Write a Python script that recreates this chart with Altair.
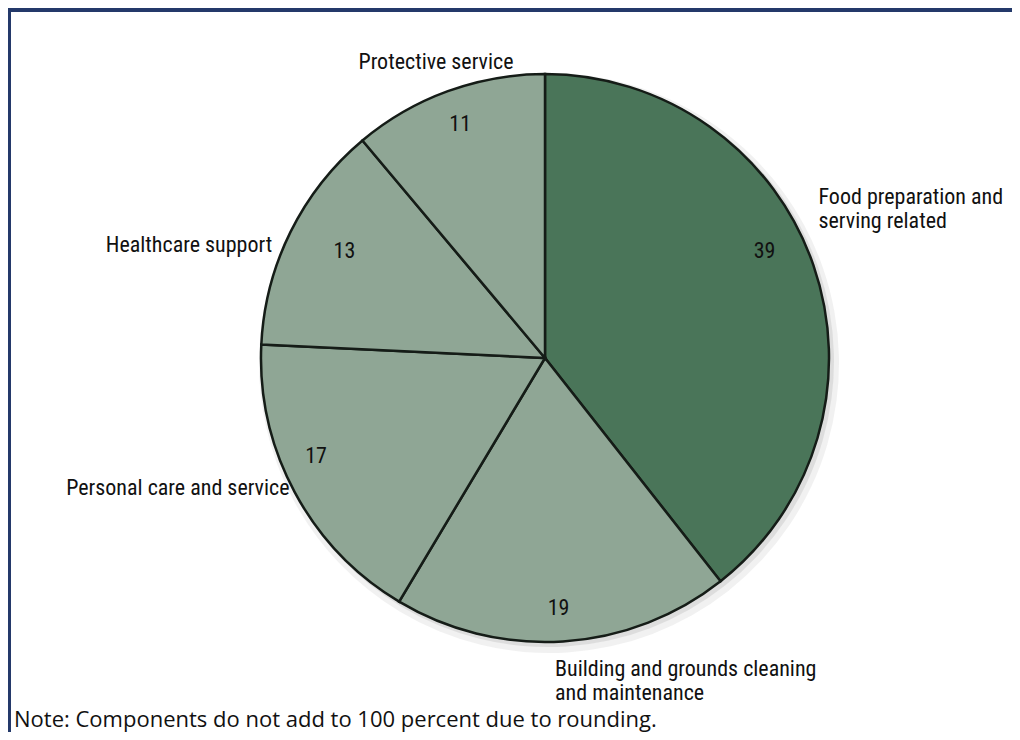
import altair as alt
import pandas as pd

categories = [
    "Food preparation and serving related",
    "Building and grounds cleaning and maintenance",
    "Personal care and service",
    "Healthcare support",
    "Protective service",
]
label_texts = [
    "Food preparation and\nserving related",
    "Building and grounds cleaning\nand maintenance",
    "Personal care and service",
    "Healthcare support",
    "Protective service",
]
values = [39, 19, 17, 13, 11]
colors = ["#4a7559", "#8fa695", "#8fa695", "#8fa695", "#8fa695"]
note = "Note: Components do not add to 100 percent due to rounding."

df = pd.DataFrame({
    "category": categories,
    "label": label_texts,
    "value": values,
    "order": list(range(len(categories))),
})

CX, CY, R = 537, 350, 284
FONT_C = "Liberation Sans Narrow, Roboto Condensed, DejaVu Sans Condensed, sans-serif"
TWO_PI = 6.283185307179586

theta_scale = alt.Scale(domain=[0, 1], range=[0, TWO_PI])

base = (
    alt.Chart(df)
    .transform_joinaggregate(total="sum(value)")
    .transform_window(cum="sum(value)", sort=[alt.SortField("order")],
                      frame=[None, 0])
    .transform_calculate(
        f_end="datum.cum / datum.total",
        f_start="(datum.cum - datum.value) / datum.total",
        f_mid="(datum.cum - datum.value / 2) / datum.total",
    )
    .encode(x=alt.value(CX), y=alt.value(CY))
)

arc_enc = dict(
    theta=alt.Theta("f_start:Q", scale=theta_scale, stack=False),
    theta2=alt.Theta2("f_end:Q"),
)

shadow = base.mark_arc(radius=R + 6, fill="#e8e8e8", opacity=0.6,
                       xOffset=4, yOffset=5).encode(**arc_enc)
shadow2 = base.mark_arc(radius=R + 2, fill="#d0d0d0", opacity=0.6,
                        xOffset=3, yOffset=3).encode(**arc_enc)

pie = base.mark_arc(radius=R, stroke="#151c17", strokeWidth=2.5).encode(
    color=alt.Color("category:N",
                    scale=alt.Scale(domain=categories, range=colors),
                    legend=None),
    **arc_enc,
)

num_offsets = {
    categories[0]: (-12, -27),
    categories[1]: (-2, 5),
    categories[2]: (-13, -18),
    categories[3]: (19, 2),
    categories[4]: (-1, -4),
}
lab_specs = {
    categories[0]: ("left", 300, -10, -63),
    categories[1]: ("left", 316, -10, -4),
    categories[2]: ("right", 300, 9, -12),
    categories[3]: ("right", 300, -4, 20),
    categories[4]: ("center", 310, -3, -5),
}

mid_theta = alt.Theta("f_mid:Q", scale=theta_scale, stack=False)

layers = [shadow, shadow2, pie]
for cat in categories:
    ndx, ndy = num_offsets[cat]
    layers.append(
        base.transform_filter(alt.datum.category == cat)
        .mark_text(radius=245, dx=ndx, dy=ndy, align="center", baseline="middle",
                   font=FONT_C, fontSize=22, color="#111111")
        .encode(theta=mid_theta, text=alt.Text("value:Q"))
    )
    al, rr, ldx, ldy = lab_specs[cat]
    layers.append(
        base.transform_filter(alt.datum.category == cat)
        .mark_text(radius=rr, dx=ldx, dy=ldy, align=al, baseline="middle",
                   font=FONT_C, fontSize=22, lineBreak="\n", lineHeight=24,
                   color="#111111")
        .encode(theta=mid_theta, text=alt.Text("label:N"))
    )

frame_df = pd.DataFrame({"k": [0]})
frame_left = alt.Chart(frame_df).mark_rect(color="#24396a").encode(
    x=alt.value(0), x2=alt.value(3), y=alt.value(0), y2=alt.value(724)
)
frame_top = alt.Chart(frame_df).mark_rect(color="#24396a").encode(
    x=alt.value(0), x2=alt.value(1004), y=alt.value(0), y2=alt.value(4)
)
note_df = pd.DataFrame({"note": [note]})
note_text = alt.Chart(note_df).mark_text(
    align="left", baseline="middle", font="Open Sans", fontSize=22, color="#111111"
).encode(text="note:N", x=alt.value(6), y=alt.value(712))

chart = alt.layer(*layers, frame_left, frame_top, note_text).properties(
    width=1004, height=724,
    autosize=alt.AutoSizeParams(type="none"),
    padding=0,
).configure_view(stroke=None).configure(background="white")

chart.save("out.html", embed_options={"renderer": "svg", "actions": False})
